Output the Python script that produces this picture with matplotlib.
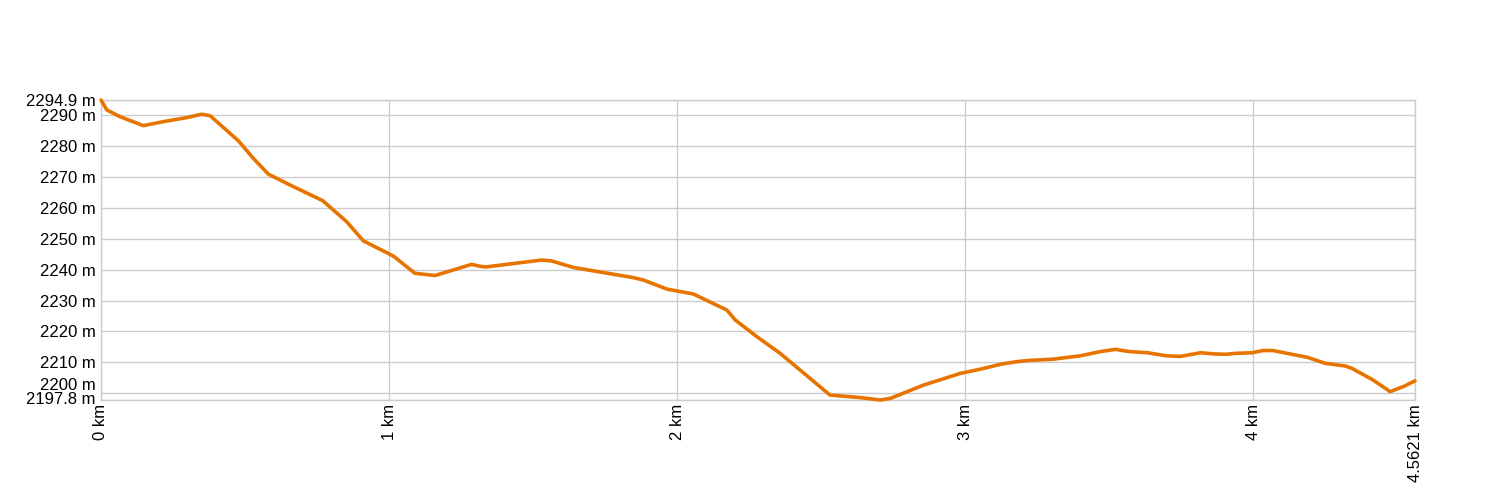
import matplotlib
matplotlib.use("Agg")
import matplotlib.pyplot as plt
import matplotlib.transforms as mtransforms

plt.rcParams['font.family'] = ['Liberation Sans', 'DejaVu Sans']

distance_km = [0.0, 0.02, 0.066, 0.147, 0.217, 0.298, 0.35, 0.379, 0.477, 0.529,
               0.581, 0.656, 0.770, 0.853, 0.911, 1.015, 1.090, 1.160, 1.287, 1.320,
               1.339, 1.530, 1.565, 1.640, 1.849, 1.884, 1.965, 2.057, 2.173, 2.202,
               2.277, 2.358, 2.427, 2.531, 2.635, 2.705, 2.740, 2.855, 2.983, 3.054,
               3.125, 3.179, 3.221, 3.305, 3.400, 3.472, 3.522, 3.567, 3.633, 3.699,
               3.747, 3.818, 3.866, 3.908, 3.938, 3.998, 4.033, 4.069, 4.129, 4.189,
               4.249, 4.320, 4.344, 4.416, 4.476, 4.523, 4.5621]
elevation_m = [2294.9, 2291.7, 2289.5, 2286.6, 2287.9, 2289.2, 2290.3, 2289.8, 2281.7, 2276.0,
               2270.9, 2267.4, 2262.3, 2255.5, 2249.3, 2244.4, 2238.8, 2238.1, 2241.7, 2241.0,
               2240.9, 2243.1, 2242.8, 2240.7, 2237.4, 2236.6, 2233.7, 2232.1, 2226.9, 2223.7,
               2218.3, 2212.9, 2207.5, 2199.4, 2198.6, 2197.8, 2198.3, 2202.6, 2206.4, 2207.8,
               2209.4, 2210.2, 2210.6, 2211.0, 2212.1, 2213.5, 2214.2, 2213.5, 2213.1, 2212.1,
               2211.9, 2213.1, 2212.7, 2212.6, 2212.9, 2213.1, 2213.8, 2213.8, 2212.7, 2211.6,
               2209.7, 2208.8, 2208.0, 2204.3, 2200.5, 2202.2, 2204.0]

x_ticks = [0, 1, 2, 3, 4, 4.5621]
x_labels = ["0 km", "1 km", "2 km", "3 km", "4 km", "4.5621 km"]
y_ticks = [2197.8, 2200, 2210, 2220, 2230, 2240, 2250, 2260, 2270, 2280, 2290, 2294.9]
y_labels = ["2197.8 m", "2200 m", "2210 m", "2220 m", "2230 m", "2240 m", "2250 m",
            "2260 m", "2270 m", "2280 m", "2290 m", "2294.9 m"]

fig = plt.figure(figsize=(15, 5), dpi=100)
ax = fig.add_axes([101/1500, 0.2, 1314/1500, 0.6])

ax.plot(distance_km, elevation_m, color="#E87400", linewidth=2.6,
        solid_joinstyle="round", solid_capstyle="round", zorder=3, clip_on=False)

ax.set_xlim(0, 4.5621)
ax.set_ylim(2197.8, 2294.9)
ax.set_xticks(x_ticks)
ax.set_xticklabels(x_labels, rotation=90, fontsize=12, color="#000000")
ax.set_yticks(y_ticks)
ax.set_yticklabels(y_labels, fontsize=12, color="#000000")
ax.tick_params(axis="both", length=0)
ax.tick_params(axis="y", pad=4)
ax.tick_params(axis="x", pad=3)
ax.grid(True, color="#cccccc", linewidth=1.0)
ax.set_axisbelow(True)
for s in ax.spines.values():
    s.set_color("#cccccc")
    s.set_linewidth(1.0)

# nudge the two crowded bottom labels apart, as in the reference
shifts_px = {0: 1.5, 1: 9.5}
for i, lab in enumerate(ax.get_yticklabels()):
    if i in shifts_px:
        off = mtransforms.ScaledTranslation(0, shifts_px[i] / 100.0, fig.dpi_scale_trans)
        lab.set_transform(lab.get_transform() + off)

fig.savefig("out.png", dpi=100, facecolor="white")
